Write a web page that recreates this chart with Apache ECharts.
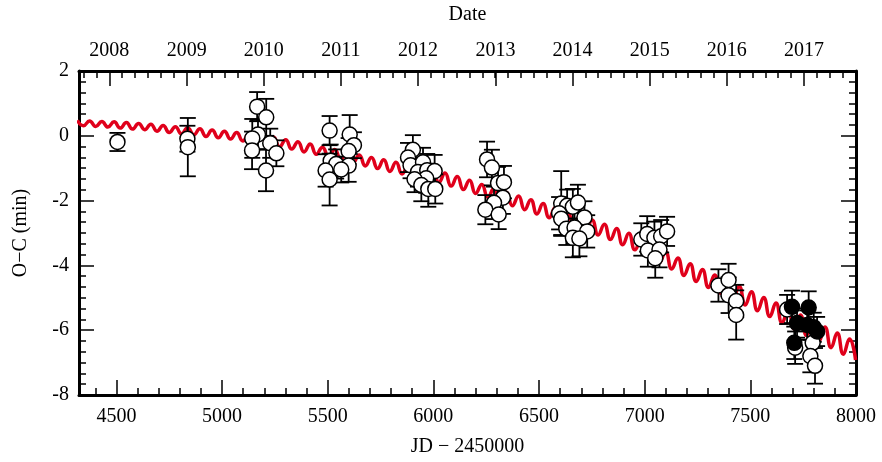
<!DOCTYPE html>
<html>
<head>
<meta charset="utf-8">
<script src="https://cdn.jsdelivr.net/npm/echarts@6/dist/echarts.min.js"></script>
<style>
  html, body { margin: 0; padding: 0; background: #fff; }
  #chart { width: 882px; height: 462px; }
</style>
</head>
<body>
<div id="chart"></div>
<script>
// model curve (JD - 2450000, O-C in min), read at crests and troughs
const modelJD = [4315,4344,4373,4402,4431,4460,4489,4518,4547,4576,4605,4634,4663,4692,4721,4750,4779,4808,4837,4866,
  4895,4924,4953,4982,5011,5040,5069,5098,5127,5156,5185,5214,5243,5272,5301,5330,5359,5388,5417,5446,
  5475,5504,5533,5562,5591,5620,5649,5678,5707,5736,5765,5794,5823,5852,5881,5910,5939,5968,5997,6026,
  6055,6084,6113,6142,6171,6200,6229,6258,6287,6316,6345,6374,6403,6432,6461,6490,6519,6548,6577,6606,
  6635,6664,6693,6722,6751,6780,6809,6838,6867,6896,6925,6954,6983,7012,7041,7070,7099,7128,7157,7186,
  7215,7244,7273,7302,7331,7360,7389,7418,7447,7476,7505,7534,7563,7592,7621,7650,7679,7708,7737,7766,
  7795,7824,7853,7882,7911,7940,7969,7998]
const modelOC = [0.48,0.31,0.46,0.29,0.44,0.27,0.43,0.24,0.41,0.21,
  0.38,0.19,0.36,0.14,0.32,0.10,0.28,0.06,0.25,0.03,
  0.22,-0.02,0.18,-0.06,0.14,-0.10,0.10,-0.16,0.06,-0.20,
  0.01,-0.26,-0.04,-0.34,-0.12,-0.41,-0.18,-0.50,-0.25,-0.57,
  -0.35,-0.64,-0.42,-0.73,-0.50,-0.83,-0.59,-0.93,-0.67,-1.01,
  -0.74,-1.10,-0.82,-1.18,-0.90,-1.26,-0.98,-1.34,-1.06,-1.44,
  -1.15,-1.55,-1.26,-1.66,-1.37,-1.78,-1.50,-1.90,-1.61,-2.03,
  -1.74,-2.16,-1.86,-2.28,-1.97,-2.41,-2.09,-2.53,-2.21,-2.65,
  -2.33,-2.80,-2.46,-2.93,-2.60,-3.06,-2.73,-3.20,-2.86,-3.36,
  -3.01,-3.52,-3.20,-3.72,-3.38,-3.92,-3.58,-4.11,-3.77,-4.31,
  -3.95,-4.50,-4.13,-4.68,-4.30,-4.86,-4.47,-5.03,-4.64,-5.22,
  -4.81,-5.40,-4.99,-5.58,-5.16,-5.78,-5.35,-5.96,-5.53,-6.16,
  -5.71,-6.35,-5.90,-6.54,-6.09,-6.74,-6.27,-6.92]

// open circles: timings with error bars
const openJD = [4505, 4836, 4838,
  5166, 5209, 5170, 5143, 5142, 5228, 5257, 5208,
  5509, 5604, 5624, 5599, 5514, 5540, 5599, 5490, 5564, 5509,
  5903, 5880, 5892, 5951, 5927, 5971, 6006, 5966, 5911, 5943, 5976, 6009,
  6254, 6277, 6306, 6334, 6329, 6287, 6246, 6309,
  6605, 6633, 6660, 6684, 6595, 6605, 6715, 6629, 6668, 6728, 6660, 6691,
  6984, 7012, 7046, 7078, 7106, 7015, 7070, 7050,
  7349, 7397, 7397, 7433, 7433,
  7674, 7712, 7795, 7784, 7806]
const openOC = [-0.19, -0.09, -0.35,
  0.90, 0.57, 0.04, -0.08, -0.45, -0.23, -0.54, -1.07,
  0.16, 0.04, -0.29, -0.47, -0.77, -0.87, -0.92, -1.07, -1.04, -1.35,
  -0.43, -0.67, -0.91, -0.82, -1.12, -1.06, -1.09, -1.31, -1.34, -1.52, -1.64, -1.64,
  -0.73, -0.98, -1.46, -1.43, -1.91, -2.07, -2.28, -2.43,
  -2.09, -2.16, -2.19, -2.06, -2.39, -2.56, -2.52, -2.87, -2.83, -2.95, -3.15, -3.17,
  -3.20, -3.03, -3.15, -3.10, -2.95, -3.54, -3.51, -3.78,
  -4.62, -4.45, -4.92, -5.10, -5.53,
  -5.36, -6.54, -6.39, -6.80, -7.10]
const openErr = [0.28, 0.40, 0.90,
  0.45, 0.57, 0.45, 0.60, 0.58, 0.45, 0.40, 0.64,
  0.45, 0.60, 0.40, 0.40, 0.50, 0.45, 0.50, 0.50, 0.40, 0.80,
  0.45, 0.45, 0.40, 0.45, 0.45, 0.50, 0.50, 0.45, 0.40, 0.50, 0.55, 0.45,
  0.55, 0.55, 0.50, 0.50, 0.50, 0.50, 0.45, 0.45,
  1.00, 0.50, 0.55, 0.55, 0.50, 0.50, 0.50, 0.50, 0.50, 0.50, 0.60, 0.55,
  0.50, 0.55, 0.50, 0.50, 0.45, 0.50, 0.55, 0.60,
  0.50, 0.50, 0.55, 0.50, 0.76,
  0.45, 0.50, 0.55, 0.50, 0.55]

// filled circles: newest timings
const filledJD = [7697, 7776, 7721, 7769, 7800, 7816, 7708]
const filledOC = [-5.28, -5.30, -5.78, -5.84, -5.91, -6.04, -6.39]
const filledErr = [0.50, 0.50, 0.45, 0.45, 0.45, 0.45, 0.50]

// top axis: JD - 2450000 of 1 January
const yearLabels = ['2008', '2009', '2010', '2011', '2012', '2013', '2014', '2015', '2016', '2017']
const yearJD = [4466.5, 4832.5, 5197.5, 5562.5, 5927.5, 6293.5, 6658.5, 7023.5, 7388.5, 7754.5]

const bottomTicks = [4500, 5000, 5500, 6000, 6500, 7000, 7500, 8000]

const xMin = 4323
const xMax = 8000
const font = 'Liberation Serif'

const minorBottom = []
for (let v = 4400; v < xMax; v += 100) minorBottom.push(v)
const minorTop = []
for (let v = yearJD[0] - 365.25; v <= xMax; v += 365.25 / 6) {
  if (v >= xMin) minorTop.push(v)
}

const errData = []
openJD.forEach((x, i) => errData.push([x, openOC[i], openErr[i]]))
filledJD.forEach((x, i) => errData.push([x, filledOC[i], filledErr[i]]))

function renderErr(params, api) {
  const x = api.value(0)
  const y = api.value(1)
  const e = api.value(2)
  const top = api.coord([x, y + e])
  const bot = api.coord([x, y - e])
  const w = 8
  const style = { stroke: '#000', lineWidth: 1.8 }
  return {
    type: 'group',
    children: [
      { type: 'line', shape: { x1: top[0], y1: top[1], x2: bot[0], y2: bot[1] }, style },
      { type: 'line', shape: { x1: top[0] - w, y1: top[1], x2: top[0] + w, y2: top[1] }, style },
      { type: 'line', shape: { x1: bot[0] - w, y1: bot[1], x2: bot[0] + w, y2: bot[1] }, style },
    ],
  }
}

const labelStyle = { color: '#000', fontFamily: font, fontSize: 20 }
const nameStyle = { color: '#000', fontFamily: font, fontSize: 20 }
const tickLine = { color: '#000', width: 1.5 }

const chart = echarts.init(document.getElementById('chart'))
chart.setOption({
  animation: false,
  backgroundColor: '#fff',
  grid: { left: 79, right: 26, top: 66, bottom: 66, containLabel: false },
  xAxis: [
    {
      type: 'value', position: 'bottom', min: xMin, max: xMax,
      name: 'JD − 2450000', nameLocation: 'middle', nameGap: 42, nameTextStyle: nameStyle,
      axisLine: { show: true, onZero: false, lineStyle: { color: '#000', width: 3 } },
      axisTick: { show: true, inside: true, length: 15, customValues: bottomTicks, lineStyle: tickLine },
      axisLabel: { show: true, customValues: bottomTicks, margin: 12, formatter: (v) => String(v), ...labelStyle },
      splitLine: { show: false },
    },
    {
      type: 'value', position: 'top', min: xMin, max: xMax,
      name: 'Date', nameLocation: 'middle', nameGap: 46, nameTextStyle: nameStyle,
      axisLine: { show: true, onZero: false, lineStyle: { color: '#000', width: 3 } },
      axisTick: { show: true, inside: true, length: 15, customValues: yearJD, lineStyle: tickLine },
      axisLabel: {
        show: true, customValues: yearJD, margin: 10, ...labelStyle,
        formatter: (v) => {
          const k = yearJD.findIndex((j) => Math.abs(j - v) < 1)
          return k >= 0 ? yearLabels[k] : ''
        },
      },
      splitLine: { show: false },
    },
    {
      type: 'value', position: 'bottom', min: xMin, max: xMax,
      axisLine: { show: false, onZero: false },
      axisTick: { show: true, inside: true, length: 7, customValues: minorBottom, lineStyle: tickLine },
      axisLabel: { show: false },
      splitLine: { show: false },
    },
    {
      type: 'value', position: 'top', min: xMin, max: xMax,
      axisLine: { show: false, onZero: false },
      axisTick: { show: true, inside: true, length: 7, customValues: minorTop, lineStyle: tickLine },
      axisLabel: { show: false },
      splitLine: { show: false },
    },
  ],
  yAxis: [
    {
      type: 'value', position: 'left', min: -8, max: 2, interval: 2,
      name: 'O−C (min)', nameLocation: 'middle', nameGap: 48, nameTextStyle: nameStyle,
      axisLine: { show: true, onZero: false, lineStyle: { color: '#000', width: 3 } },
      axisTick: { show: true, inside: true, length: 15, lineStyle: tickLine },
      minorTick: { show: true, splitNumber: 6, length: 7, lineStyle: tickLine },
      axisLabel: { show: true, margin: 10, ...labelStyle },
      splitLine: { show: false },
      minorSplitLine: { show: false },
    },
    {
      type: 'value', position: 'right', min: -8, max: 2, interval: 2,
      axisLine: { show: true, onZero: false, lineStyle: { color: '#000', width: 3 } },
      axisTick: { show: true, inside: true, length: 15, lineStyle: tickLine },
      minorTick: { show: true, splitNumber: 6, length: 7, lineStyle: tickLine },
      axisLabel: { show: false },
      splitLine: { show: false },
      minorSplitLine: { show: false },
    },
  ],
  series: [
    {
      name: 'model', type: 'line', xAxisIndex: 0, yAxisIndex: 0,
      data: modelJD.map((x, i) => [x, modelOC[i]]),
      smooth: 0.5, showSymbol: false, symbol: 'none', clip: true,
      lineStyle: { color: '#e0001b', width: 3.5 },
      z: 2,
    },
    {
      name: 'errors', type: 'custom', xAxisIndex: 0, yAxisIndex: 0,
      data: errData, renderItem: renderErr, z: 3,
    },
    {
      name: 'open', type: 'scatter', xAxisIndex: 0, yAxisIndex: 0,
      data: openJD.map((x, i) => [x, openOC[i]]),
      symbol: 'circle', symbolSize: 15,
      itemStyle: { color: '#fff', borderColor: '#000', borderWidth: 1.5, opacity: 1 },
      z: 4,
    },
    {
      name: 'filled', type: 'scatter', xAxisIndex: 0, yAxisIndex: 0,
      data: filledJD.map((x, i) => [x, filledOC[i]]),
      symbol: 'circle', symbolSize: 15,
      itemStyle: { color: '#000', borderColor: '#000', borderWidth: 1.5, opacity: 1 },
      z: 5,
    },
  ],
})
</script>
</body>
</html>
